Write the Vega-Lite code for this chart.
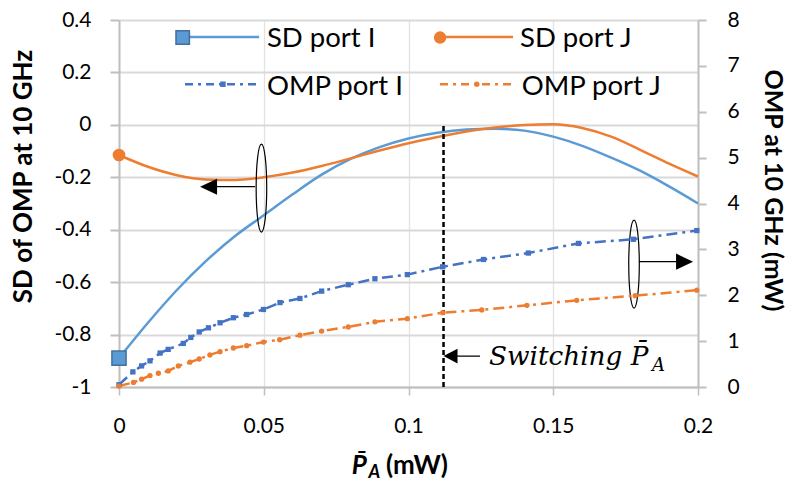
{
"$schema": "https://vega.github.io/schema/vega-lite/v6.json",
"width": 579, "height": 367,
"autosize": "none",
"padding": {"left": 119, "top": 20, "right": 92, "bottom": 96},
"background": "white",
"config": {"view": {"stroke": null}, "font": "Lato"},
"data": {"values": [{}]},
"datasets": {
"sd": [
{"x":0,"series":"SD port I","sd":-0.89},{"x":0.01,"series":"SD port I","sd":-0.755},{"x":0.02,"series":"SD port I","sd":-0.63},{"x":0.03,"series":"SD port I","sd":-0.52},{"x":0.04,"series":"SD port I","sd":-0.425},{"x":0.05,"series":"SD port I","sd":-0.345},{"x":0.06,"series":"SD port I","sd":-0.265},{"x":0.07,"series":"SD port I","sd":-0.19},{"x":0.08,"series":"SD port I","sd":-0.13},{"x":0.09,"series":"SD port I","sd":-0.085},{"x":0.1,"series":"SD port I","sd":-0.052},{"x":0.11,"series":"SD port I","sd":-0.03},{"x":0.12,"series":"SD port I","sd":-0.018},{"x":0.13,"series":"SD port I","sd":-0.015},{"x":0.14,"series":"SD port I","sd":-0.022},{"x":0.15,"series":"SD port I","sd":-0.045},{"x":0.16,"series":"SD port I","sd":-0.08},{"x":0.17,"series":"SD port I","sd":-0.125},{"x":0.18,"series":"SD port I","sd":-0.175},{"x":0.19,"series":"SD port I","sd":-0.235},{"x":0.2,"series":"SD port I","sd":-0.3},
{"x":0,"series":"SD port J","sd":-0.115},{"x":0.01,"series":"SD port J","sd":-0.16},{"x":0.02,"series":"SD port J","sd":-0.192},{"x":0.03,"series":"SD port J","sd":-0.208},{"x":0.04,"series":"SD port J","sd":-0.21},{"x":0.05,"series":"SD port J","sd":-0.2},{"x":0.06,"series":"SD port J","sd":-0.182},{"x":0.07,"series":"SD port J","sd":-0.157},{"x":0.08,"series":"SD port J","sd":-0.128},{"x":0.09,"series":"SD port J","sd":-0.098},{"x":0.1,"series":"SD port J","sd":-0.07},{"x":0.11,"series":"SD port J","sd":-0.046},{"x":0.12,"series":"SD port J","sd":-0.025},{"x":0.13,"series":"SD port J","sd":-0.01},{"x":0.14,"series":"SD port J","sd":-0.001},{"x":0.15,"series":"SD port J","sd":0.002},{"x":0.16,"series":"SD port J","sd":-0.012},{"x":0.17,"series":"SD port J","sd":-0.045},{"x":0.18,"series":"SD port J","sd":-0.095},{"x":0.19,"series":"SD port J","sd":-0.148},{"x":0.2,"series":"SD port J","sd":-0.197}
],
"omp": [
{"x":0,"series":"OMP port I","omp":0.05},{"x":0.0048,"series":"OMP port I","omp":0.33},{"x":0.0078,"series":"OMP port I","omp":0.46},{"x":0.0107,"series":"OMP port I","omp":0.57},{"x":0.0142,"series":"OMP port I","omp":0.74},{"x":0.017,"series":"OMP port I","omp":0.82},{"x":0.0222,"series":"OMP port I","omp":0.95},{"x":0.0248,"series":"OMP port I","omp":1.08},{"x":0.0277,"series":"OMP port I","omp":1.2},{"x":0.0309,"series":"OMP port I","omp":1.29},{"x":0.0349,"series":"OMP port I","omp":1.4},{"x":0.0395,"series":"OMP port I","omp":1.51},{"x":0.0441,"series":"OMP port I","omp":1.58},{"x":0.0499,"series":"OMP port I","omp":1.69},{"x":0.0556,"series":"OMP port I","omp":1.84},{"x":0.0625,"series":"OMP port I","omp":1.93},{"x":0.07,"series":"OMP port I","omp":2.09},{"x":0.0792,"series":"OMP port I","omp":2.23},{"x":0.0884,"series":"OMP port I","omp":2.36},{"x":0.0996,"series":"OMP port I","omp":2.45},{"x":0.1118,"series":"OMP port I","omp":2.62},{"x":0.1259,"series":"OMP port I","omp":2.78},{"x":0.1414,"series":"OMP port I","omp":2.92},{"x":0.1587,"series":"OMP port I","omp":3.13},{"x":0.1777,"series":"OMP port I","omp":3.22},{"x":0.1996,"series":"OMP port I","omp":3.41},
{"x":0,"series":"OMP port J","omp":0.02},{"x":0.005,"series":"OMP port J","omp":0.1},{"x":0.0078,"series":"OMP port J","omp":0.17},{"x":0.0107,"series":"OMP port J","omp":0.25},{"x":0.0136,"series":"OMP port J","omp":0.3},{"x":0.017,"series":"OMP port J","omp":0.35},{"x":0.0205,"series":"OMP port J","omp":0.46},{"x":0.0245,"series":"OMP port J","omp":0.54},{"x":0.0277,"series":"OMP port J","omp":0.61},{"x":0.0314,"series":"OMP port J","omp":0.7},{"x":0.0349,"series":"OMP port J","omp":0.77},{"x":0.0395,"series":"OMP port J","omp":0.85},{"x":0.0441,"series":"OMP port J","omp":0.9},{"x":0.0499,"series":"OMP port J","omp":0.98},{"x":0.0555,"series":"OMP port J","omp":1.03},{"x":0.0625,"series":"OMP port J","omp":1.13},{"x":0.07,"series":"OMP port J","omp":1.22},{"x":0.0792,"series":"OMP port J","omp":1.31},{"x":0.0884,"series":"OMP port J","omp":1.42},{"x":0.0996,"series":"OMP port J","omp":1.49},{"x":0.1118,"series":"OMP port J","omp":1.62},{"x":0.1253,"series":"OMP port J","omp":1.68},{"x":0.1409,"series":"OMP port J","omp":1.78},{"x":0.1581,"series":"OMP port J","omp":1.89},{"x":0.1783,"series":"OMP port J","omp":1.99},{"x":0.1996,"series":"OMP port J","omp":2.11}
]
},
"layer": [
{
"layer": [
{"data": {"name": "sd"},
 "mark": {"type": "line", "strokeWidth": 2.5, "interpolate": "monotone"},
 "encoding": {
  "x": {"field": "x", "type": "quantitative", "scale": {"domain": [0, 0.2], "nice": false, "zero": false},
        "axis": {"title": null, "values": [0, 0.05, 0.1, 0.15, 0.2], "format": "~g", "domainColor": "#BFBFBF", "domainWidth": 2, "tickColor": "#BFBFBF", "tickWidth": 1.5, "tickSize": 8, "labelFont": "Lato", "labelFontSize": 21, "labelColor": "#000000", "labelPadding": 20, "labelFlush": false, "grid": true, "gridColor": "#E2E2E2", "gridWidth": 1.3}},
  "y": {"field": "sd", "type": "quantitative", "scale": {"domain": [-1, 0.4], "nice": false, "zero": false},
        "axis": {"title": "SD of OMP at 10 GHz", "values": [-1, -0.8, -0.6, -0.4, -0.2, 0, 0.2, 0.4], "labelExpr": "replace(format(datum.value, '~g'), '−', '-')", "domainColor": "#BFBFBF", "domainWidth": 2, "tickColor": "#BFBFBF", "tickWidth": 2, "tickSize": 9, "labelFont": "Lato", "labelFontSize": 21, "labelColor": "#000000", "labelPadding": 19, "labelFlush": false, "grid": true, "gridColor": "#D9D9D9", "gridWidth": 2, "titleFont": "Lato", "titleFontWeight": "bold", "titleFontSize": 26, "titleColor": "#000000", "titleX": -96, "titleY": 156, "titleAngle": 270, "titleAlign": "center", "titleBaseline": "middle"}},
  "color": {"field": "series", "type": "nominal", "scale": {"domain": ["SD port I", "SD port J", "OMP port I", "OMP port J"], "range": ["#5B9BD5", "#ED7D31", "#4472C4", "#ED7D31"]}, "legend": null}
 }},
{"data": {"name": "sd"},
 "transform": [{"filter": "datum.series === 'SD port I' && datum.x === 0"}],
 "mark": {"type": "point", "shape": "square", "size": 200, "filled": true, "fill": "#5B9BD5", "stroke": "#41719C", "strokeWidth": 1.5, "opacity": 1},
 "encoding": {
  "x": {"field": "x", "type": "quantitative", "scale": {"domain": [0, 0.2], "nice": false, "zero": false}},
  "y": {"field": "sd", "type": "quantitative", "scale": {"domain": [-1, 0.4], "nice": false, "zero": false}}
 }},
{"data": {"name": "sd"},
 "transform": [{"filter": "datum.series === 'SD port J' && datum.x === 0"}],
 "mark": {"type": "point", "shape": "circle", "size": 160, "filled": true, "fill": "#ED7D31", "opacity": 1},
 "encoding": {
  "x": {"field": "x", "type": "quantitative", "scale": {"domain": [0, 0.2], "nice": false, "zero": false}},
  "y": {"field": "sd", "type": "quantitative", "scale": {"domain": [-1, 0.4], "nice": false, "zero": false}}
 }},
{"mark": {"type": "rule", "color": "#000000", "strokeWidth": 2.5, "strokeDash": [5, 3]},
 "encoding": {
  "x": {"datum": 0.1121, "type": "quantitative", "scale": {"domain": [0, 0.2], "nice": false, "zero": false}},
  "y": {"datum": -1, "type": "quantitative", "scale": {"domain": [-1, 0.4], "nice": false, "zero": false}},
  "y2": {"datum": 0}
 }},
{"mark": {"type": "point", "shape": "M0,-1A0.12,1,0,1,1,0,1A0.12,1,0,1,1,0,-1Z", "size": 7744, "filled": false, "stroke": "#000000", "strokeWidth": 1.2, "opacity": 1},
 "encoding": {
  "x": {"datum": 0.0492, "type": "quantitative", "scale": {"domain": [0, 0.2], "nice": false, "zero": false}},
  "y": {"datum": -0.241, "type": "quantitative", "scale": {"domain": [-1, 0.4], "nice": false, "zero": false}}
 }},
{"mark": {"type": "rule", "color": "#000000", "strokeWidth": 1.3},
 "encoding": {
  "x": {"datum": 0.047, "type": "quantitative", "scale": {"domain": [0, 0.2], "nice": false, "zero": false}},
  "x2": {"datum": 0.031},
  "y": {"datum": -0.236, "type": "quantitative", "scale": {"domain": [-1, 0.4], "nice": false, "zero": false}}
 }},
{"mark": {"type": "point", "shape": "M0,0L2,-0.95L2,0.95Z", "size": 289, "filled": true, "fill": "#000000", "opacity": 1},
 "encoding": {
  "x": {"datum": 0.028, "type": "quantitative", "scale": {"domain": [0, 0.2], "nice": false, "zero": false}},
  "y": {"datum": -0.236, "type": "quantitative", "scale": {"domain": [-1, 0.4], "nice": false, "zero": false}}
 }},
{"mark": {"type": "point", "shape": "M0,-1A0.12,1,0,1,1,0,1A0.12,1,0,1,1,0,-1Z", "size": 7744, "filled": false, "stroke": "#000000", "strokeWidth": 1.2, "opacity": 1},
 "encoding": {
  "x": {"datum": 0.1779, "type": "quantitative", "scale": {"domain": [0, 0.2], "nice": false, "zero": false}},
  "y": {"datum": -0.531, "type": "quantitative", "scale": {"domain": [-1, 0.4], "nice": false, "zero": false}}
 }},
{"mark": {"type": "rule", "color": "#000000", "strokeWidth": 1.3},
 "encoding": {
  "x": {"datum": 0.1796, "type": "quantitative", "scale": {"domain": [0, 0.2], "nice": false, "zero": false}},
  "x2": {"datum": 0.195},
  "y": {"datum": -0.522, "type": "quantitative", "scale": {"domain": [-1, 0.4], "nice": false, "zero": false}}
 }},
{"mark": {"type": "point", "shape": "M0,0L-2,-0.95L-2,0.95Z", "size": 289, "filled": true, "fill": "#000000", "opacity": 1},
 "encoding": {
  "x": {"datum": 0.1983, "type": "quantitative", "scale": {"domain": [0, 0.2], "nice": false, "zero": false}},
  "y": {"datum": -0.522, "type": "quantitative", "scale": {"domain": [-1, 0.4], "nice": false, "zero": false}}
 }},
{"mark": {"type": "rule", "color": "#000000", "strokeWidth": 1.3},
 "encoding": {
  "x": {"datum": 0.1135, "type": "quantitative", "scale": {"domain": [0, 0.2], "nice": false, "zero": false}},
  "x2": {"datum": 0.1247},
  "y": {"datum": -0.882, "type": "quantitative", "scale": {"domain": [-1, 0.4], "nice": false, "zero": false}}
 }},
{"mark": {"type": "point", "shape": "M0,0L2,-1.05L2,1.05Z", "size": 196, "filled": true, "fill": "#000000", "opacity": 1},
 "encoding": {
  "x": {"datum": 0.1121, "type": "quantitative", "scale": {"domain": [0, 0.2], "nice": false, "zero": false}},
  "y": {"datum": -0.882, "type": "quantitative", "scale": {"domain": [-1, 0.4], "nice": false, "zero": false}}
 }},
{"mark": {"type": "text", "text": "Switching P̄", "align": "left", "baseline": "alphabetic", "font": "DejaVu Serif", "fontStyle": "italic", "fontSize": 26.3, "color": "#000000"},
 "encoding": {
  "x": {"datum": 0.1278, "type": "quantitative", "scale": {"domain": [0, 0.2], "nice": false, "zero": false}},
  "y": {"datum": -0.916, "type": "quantitative", "scale": {"domain": [-1, 0.4], "nice": false, "zero": false}}
 }},
{"mark": {"type": "text", "text": "A", "align": "left", "baseline": "alphabetic", "font": "DejaVu Serif", "fontStyle": "italic", "fontSize": 18, "color": "#000000"},
 "encoding": {
  "x": {"datum": 0.1841, "type": "quantitative", "scale": {"domain": [0, 0.2], "nice": false, "zero": false}},
  "y": {"datum": -0.94, "type": "quantitative", "scale": {"domain": [-1, 0.4], "nice": false, "zero": false}}
 }},
{"mark": {"type": "text", "text": "P̄", "align": "left", "baseline": "alphabetic", "font": "Lato", "fontStyle": "italic", "fontWeight": "bold", "fontSize": 26, "color": "#000000"},
 "encoding": {
  "x": {"datum": 0.0804, "type": "quantitative", "scale": {"domain": [0, 0.2], "nice": false, "zero": false}},
  "y": {"datum": -1.332, "type": "quantitative", "scale": {"domain": [-1, 0.4], "nice": false, "zero": false}}
 }},
{"mark": {"type": "text", "text": "A", "align": "left", "baseline": "alphabetic", "font": "Lato", "fontStyle": "italic", "fontWeight": "bold", "fontSize": 18, "color": "#000000"},
 "encoding": {
  "x": {"datum": 0.0862, "type": "quantitative", "scale": {"domain": [0, 0.2], "nice": false, "zero": false}},
  "y": {"datum": -1.347, "type": "quantitative", "scale": {"domain": [-1, 0.4], "nice": false, "zero": false}}
 }},
{"mark": {"type": "text", "text": "(mW)", "align": "left", "baseline": "alphabetic", "font": "Lato", "fontWeight": "bold", "fontSize": 26, "color": "#000000"},
 "encoding": {
  "x": {"datum": 0.0922, "type": "quantitative", "scale": {"domain": [0, 0.2], "nice": false, "zero": false}},
  "y": {"datum": -1.332, "type": "quantitative", "scale": {"domain": [-1, 0.4], "nice": false, "zero": false}}
 }},
{"mark": {"type": "rule", "color": "#5B9BD5", "strokeWidth": 2.5},
 "encoding": {
  "x": {"datum": 0.0197, "type": "quantitative", "scale": {"domain": [0, 0.2], "nice": false, "zero": false}},
  "x2": {"datum": 0.0484},
  "y": {"datum": 0.335, "type": "quantitative", "scale": {"domain": [-1, 0.4], "nice": false, "zero": false}}
 }},
{"mark": {"type": "point", "shape": "square", "size": 180, "filled": true, "fill": "#5B9BD5", "stroke": "#41719C", "strokeWidth": 1.5, "opacity": 1},
 "encoding": {
  "x": {"datum": 0.022, "type": "quantitative", "scale": {"domain": [0, 0.2], "nice": false, "zero": false}},
  "y": {"datum": 0.333, "type": "quantitative", "scale": {"domain": [-1, 0.4], "nice": false, "zero": false}}
 }},
{"mark": {"type": "rule", "color": "#ED7D31", "strokeWidth": 2.5},
 "encoding": {
  "x": {"datum": 0.1109, "type": "quantitative", "scale": {"domain": [0, 0.2], "nice": false, "zero": false}},
  "x2": {"datum": 0.1361},
  "y": {"datum": 0.335, "type": "quantitative", "scale": {"domain": [-1, 0.4], "nice": false, "zero": false}}
 }},
{"mark": {"type": "point", "shape": "circle", "size": 154, "filled": true, "fill": "#ED7D31", "opacity": 1},
 "encoding": {
  "x": {"datum": 0.1109, "type": "quantitative", "scale": {"domain": [0, 0.2], "nice": false, "zero": false}},
  "y": {"datum": 0.333, "type": "quantitative", "scale": {"domain": [-1, 0.4], "nice": false, "zero": false}}
 }},
{"mark": {"type": "rule", "color": "#4472C4", "strokeWidth": 2.5, "strokeDash": [8, 5, 3, 5]},
 "encoding": {
  "x": {"datum": 0.0228, "type": "quantitative", "scale": {"domain": [0, 0.2], "nice": false, "zero": false}},
  "x2": {"datum": 0.0484},
  "y": {"datum": 0.155, "type": "quantitative", "scale": {"domain": [-1, 0.4], "nice": false, "zero": false}}
 }},
{"mark": {"type": "point", "shape": "square", "size": 30, "filled": true, "fill": "#4472C4", "opacity": 1},
 "encoding": {
  "x": {"datum": 0.0359, "type": "quantitative", "scale": {"domain": [0, 0.2], "nice": false, "zero": false}},
  "y": {"datum": 0.155, "type": "quantitative", "scale": {"domain": [-1, 0.4], "nice": false, "zero": false}}
 }},
{"mark": {"type": "rule", "color": "#ED7D31", "strokeWidth": 2.5, "strokeDash": [8, 5, 3, 5]},
 "encoding": {
  "x": {"datum": 0.1109, "type": "quantitative", "scale": {"domain": [0, 0.2], "nice": false, "zero": false}},
  "x2": {"datum": 0.1361},
  "y": {"datum": 0.155, "type": "quantitative", "scale": {"domain": [-1, 0.4], "nice": false, "zero": false}}
 }},
{"mark": {"type": "point", "shape": "circle", "size": 28, "filled": true, "fill": "#ED7D31", "opacity": 1},
 "encoding": {
  "x": {"datum": 0.1236, "type": "quantitative", "scale": {"domain": [0, 0.2], "nice": false, "zero": false}},
  "y": {"datum": 0.155, "type": "quantitative", "scale": {"domain": [-1, 0.4], "nice": false, "zero": false}}
 }},
{"mark": {"type": "text", "text": "SD port I", "align": "left", "baseline": "alphabetic", "font": "Lato", "fontSize": 27.5, "color": "#000000"},
 "encoding": {
  "x": {"datum": 0.0511, "type": "quantitative", "scale": {"domain": [0, 0.2], "nice": false, "zero": false}},
  "y": {"datum": 0.298, "type": "quantitative", "scale": {"domain": [-1, 0.4], "nice": false, "zero": false}}
 }},
{"mark": {"type": "text", "text": "SD port J", "align": "left", "baseline": "alphabetic", "font": "Lato", "fontSize": 27.5, "color": "#000000"},
 "encoding": {
  "x": {"datum": 0.1385, "type": "quantitative", "scale": {"domain": [0, 0.2], "nice": false, "zero": false}},
  "y": {"datum": 0.298, "type": "quantitative", "scale": {"domain": [-1, 0.4], "nice": false, "zero": false}}
 }},
{"mark": {"type": "text", "text": "OMP port I", "align": "left", "baseline": "alphabetic", "font": "Lato", "fontSize": 27.5, "color": "#000000"},
 "encoding": {
  "x": {"datum": 0.0511, "type": "quantitative", "scale": {"domain": [0, 0.2], "nice": false, "zero": false}},
  "y": {"datum": 0.114, "type": "quantitative", "scale": {"domain": [-1, 0.4], "nice": false, "zero": false}}
 }},
{"mark": {"type": "text", "text": "OMP port J", "align": "left", "baseline": "alphabetic", "font": "Lato", "fontSize": 27.5, "color": "#000000"},
 "encoding": {
  "x": {"datum": 0.1391, "type": "quantitative", "scale": {"domain": [0, 0.2], "nice": false, "zero": false}},
  "y": {"datum": 0.114, "type": "quantitative", "scale": {"domain": [-1, 0.4], "nice": false, "zero": false}}
 }}
]
},
{
"layer": [
{"data": {"name": "omp"},
 "mark": {"type": "line", "strokeWidth": 2.5, "strokeDash": [11, 5, 3, 5]},
 "encoding": {
  "x": {"field": "x", "type": "quantitative", "scale": {"domain": [0, 0.2], "nice": false, "zero": false}},
  "y": {"field": "omp", "type": "quantitative", "scale": {"domain": [0, 8], "nice": false, "zero": false},
        "axis": {"orient": "right", "title": "OMP at 10 GHz (mW)", "values": [0, 1, 2, 3, 4, 5, 6, 7, 8], "format": "d", "domainColor": "#BFBFBF", "domainWidth": 2, "tickColor": "#BFBFBF", "tickWidth": 2, "tickSize": 8, "labelFont": "Lato", "labelFontSize": 21, "labelColor": "#000000", "labelPadding": 21, "labelFlush": false, "grid": false, "titleFont": "Lato", "titleFontWeight": "bold", "titleFontSize": 25, "titleColor": "#000000", "titleX": 74, "titleY": 170, "titleAngle": 90, "titleAlign": "center", "titleBaseline": "middle"}},
  "color": {"field": "series", "type": "nominal", "scale": {"domain": ["SD port I", "SD port J", "OMP port I", "OMP port J"], "range": ["#5B9BD5", "#ED7D31", "#4472C4", "#ED7D31"]}, "legend": null}
 }},
{"data": {"name": "omp"},
 "mark": {"type": "point", "filled": true, "size": 28, "opacity": 1},
 "encoding": {
  "x": {"field": "x", "type": "quantitative", "scale": {"domain": [0, 0.2], "nice": false, "zero": false}},
  "y": {"field": "omp", "type": "quantitative", "scale": {"domain": [0, 8], "nice": false, "zero": false}, "axis": {"orient": "right"}},
  "color": {"field": "series", "type": "nominal", "scale": {"domain": ["SD port I", "SD port J", "OMP port I", "OMP port J"], "range": ["#5B9BD5", "#ED7D31", "#4472C4", "#ED7D31"]}, "legend": null},
  "shape": {"field": "series", "type": "nominal", "scale": {"domain": ["OMP port I", "OMP port J"], "range": ["square", "circle"]}, "legend": null}
 }}
]
}
],
"resolve": {"scale": {"y": "independent"}}
}
